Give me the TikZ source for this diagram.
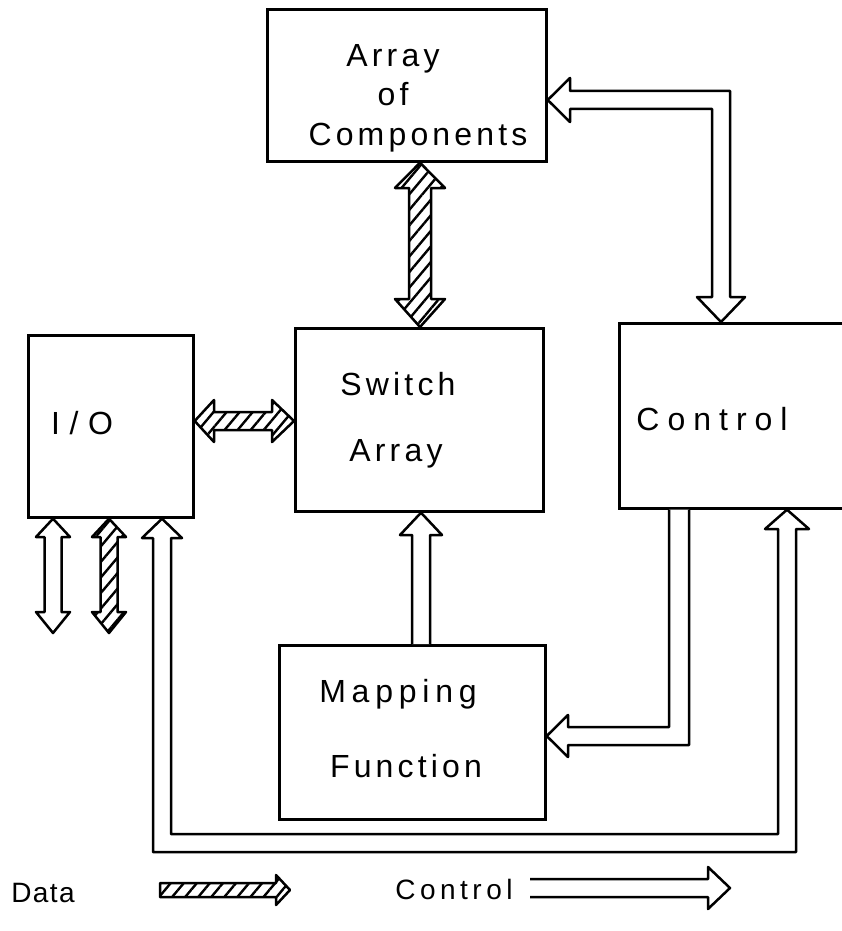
\documentclass[tikz,border=0pt]{standalone}
\usepackage{fontspec}
\setmainfont{Liberation Sans}[LetterSpace=13]
\usetikzlibrary{patterns.meta}
\tikzset{
  blk/.style={draw, line width=2.7pt, anchor=north west, inner sep=0pt},
  lbl/.style={font=\fontsize{32}{34}\selectfont, inner sep=0pt, anchor=base},
  leg/.style={font=\fontsize{28}{30}\selectfont, inner sep=0pt, anchor=base},
  ctrlarrow/.style={draw, line width=2.5pt, line join=round, fill=white},
  dataarrow/.style={draw, line width=2.5pt, line join=round,
     pattern={Lines[angle=50,distance=10pt,line width=2.4pt]}},
}
\begin{document}
\begin{tikzpicture}[x=1pt,y=-1pt]
\useasboundingbox (0,0) rectangle (842,931);
\clip (0,0) rectangle (842,931);

% boxes
\node[blk, minimum width=279pt, minimum height=152pt] (arr) at (266,8) {};
\node[blk, minimum width=248pt, minimum height=183pt] (sw) at (294,327) {};
\node[blk, minimum width=165pt, minimum height=182pt] (io) at (27,334) {};
\node[blk, minimum width=260pt, minimum height=185pt] (ctl) at (618,322) {};
\node[blk, minimum width=266pt, minimum height=174pt] (mf) at (278,644) {};

% texts
\node[lbl] (tA1) at (393,67) {Array};
\node[lbl] (tA2) at (393,106) {of};
\node[lbl] (tA3) at (418,146) {Components};
\node[lbl] (tS1) at (398,395) {Switch};
\node[lbl] (tS2) at (396,461) {Array};
\node[lbl, font=\fontsize{32}{34}\selectfont\addfontfeature{LetterSpace=30}] (tIO) at (82,434) {I/O};
\node[lbl, font=\fontsize{32}{34}\selectfont\addfontfeature{LetterSpace=25}] (tC) at (712,430) {Control};
\node[lbl, font=\fontsize{32}{34}\selectfont\addfontfeature{LetterSpace=18}] (tM1) at (398,702) {Mapping};
\node[lbl] (tM2) at (406,777) {Function};

% connector end points
\coordinate (asT) at (420,0 |- arr.south);
\coordinate (asB) at (420,0 |- sw.north);
\coordinate (isL) at (io.east |- 0,421);
\coordinate (isR) at (sw.west |- 0,421);
\coordinate (msT) at (421,0 |- sw.south);
\coordinate (msB) at (421,0 |- mf.north);
\coordinate (acL) at (arr.east |- 0,100);
\coordinate (acD) at (721,0 |- ctl.north);
\coordinate (cmT) at (679,0 |- ctl.south);
\coordinate (cmL) at (mf.east |- 0,736);
\coordinate (loL) at (162,0 |- io.south);
\coordinate (loR) at (787,0 |- ctl.south);
\coordinate (ioW) at (53,0 |- io.south);
\coordinate (ioWb) at (53,633);
\coordinate (ioH) at (109,0 |- io.south);
\coordinate (ioHb) at (109,633);

% Array <-> Switch (data)
\draw[dataarrow] (asT) -- (445,188) -- (431,188) -- (431,299) -- (445,299) -- (asB)
  -- (395,299) -- (409,299) -- (409,188) -- (395,188) -- cycle;

% I/O <-> Switch (data)
\draw[dataarrow] (isL) -- (214,400) -- (214,412) -- (272,412) -- (272,400) -- (isR)
  -- (272,442) -- (272,430) -- (214,430) -- (214,442) -- cycle;

% Mapping -> Switch (control)
\draw[ctrlarrow] (412,0 |- msB) -- (412,535) -- (400,535) -- (msT) -- (442,535) -- (430,535) -- (430,0 |- msB);

% Array <-> Control (control)
\draw[ctrlarrow] (acL) -- (570,78) -- (570,91) -- (730,91) -- (730,297) -- (745,297) -- (acD)
  -- (697,297) -- (712,297) -- (712,109) -- (570,109) -- (570,122) -- cycle;

% Control -> Mapping (control)
\draw[ctrlarrow] (669,0 |- cmT) -- (669,727) -- (568,727) -- (568,715) -- (cmL)
  -- (568,757) -- (568,745) -- (689,745) -- (689,0 |- cmT);

% loop I/O <-> Control (control)
\draw[ctrlarrow] (loL) -- (182,538) -- (171,538) -- (171,834) -- (778,834) -- (778,529)
  -- (765,529) -- (loR) -- (809,529) -- (796,529) -- (796,852) -- (153,852)
  -- (153,538) -- (142,538) -- cycle;

% I/O external arrows
\draw[ctrlarrow] (ioW) -- (70,537) -- (61.5,537) -- (61.5,612) -- (70,612) -- (ioWb)
  -- (36,612) -- (44.5,612) -- (44.5,537) -- (36,537) -- cycle;
\draw[dataarrow] (ioH) -- (126,537) -- (117.5,537) -- (117.5,612) -- (126,612) -- (ioHb)
  -- (92,612) -- (100.5,612) -- (100.5,537) -- (92,537) -- cycle;

% legend
\node[leg, font=\fontsize{28}{30}\selectfont\addfontfeature{LetterSpace=5}] (lD) at (43,902) {Data};
\coordinate (ldA) at (160,890);
\coordinate (ldB) at (290,890);
\draw[dataarrow] (ldA) -- (160,883) -- (276,883) -- (276,875) -- (ldB) -- (276,905)
  -- (276,897) -- (160,897) -- cycle;
\node[leg, font=\fontsize{28}{30}\selectfont\addfontfeature{LetterSpace=16}] (lC) at (454,899) {Control};
\coordinate (lcA) at (530,888);
\coordinate (lcB) at (730,888);
\draw[ctrlarrow] (lcA |- 0,879) -- (708,879) -- (708,867) -- (lcB) -- (708,909) -- (708,897) -- (lcA |- 0,897);
\end{tikzpicture}
\end{document}
